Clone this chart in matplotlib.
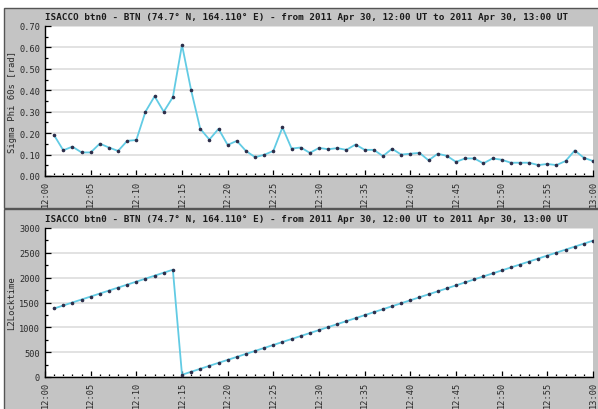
import matplotlib
matplotlib.use("Agg")
import matplotlib.pyplot as plt
import matplotlib.dates as mdates
from matplotlib.patches import Rectangle
import numpy as np
import pandas as pd

# minutes after 12:00 UT, one sample per minute
minutes = list(range(1, 61))

sigma_phi = [
    0.190, 0.120, 0.137, 0.110, 0.110, 0.151, 0.133, 0.117, 0.164, 0.168,
    0.300, 0.372, 0.300, 0.368, 0.612, 0.400, 0.220, 0.170, 0.220, 0.145,
    0.164, 0.117, 0.088, 0.099, 0.117, 0.227, 0.128, 0.133, 0.108, 0.131,
    0.125, 0.130, 0.122, 0.147, 0.122, 0.122, 0.093, 0.127, 0.100, 0.104,
    0.108, 0.073, 0.104, 0.094, 0.066, 0.082, 0.082, 0.059, 0.082, 0.076,
    0.062, 0.062, 0.062, 0.051, 0.056, 0.051, 0.070, 0.119, 0.085, 0.070,
]

l2_locktime = [
    1380, 1440, 1500, 1560, 1620, 1680, 1740, 1800, 1860, 1920,
    1980, 2040, 2100, 2160, 45, 105, 165, 225, 285, 345,
    405, 465, 525, 585, 645, 705, 765, 825, 885, 945,
    1005, 1065, 1125, 1185, 1245, 1305, 1365, 1425, 1485, 1545,
    1605, 1665, 1725, 1785, 1845, 1905, 1965, 2025, 2085, 2145,
    2205, 2265, 2325, 2385, 2445, 2505, 2565, 2625, 2685, 2745,
]

title = ("ISACCO btn0 - BTN (74.7\u00b0 N, 164.110\u00b0 E) - from 2011 Apr 30, "
         "12:00 UT to 2011 Apr 30, 13:00 UT")

t0 = pd.Timestamp("2011-04-30 12:00")
times = [t0 + pd.Timedelta(minutes=m) for m in minutes]

W, H = 598, 410
PANEL = "#c4c4c4"
LINE = "#62cbe4"
DOT = "#2e2e4a"
MONO = "DejaVu Sans Mono"

fig = plt.figure(figsize=(W / 100, H / 100), dpi=100, facecolor="white")


def px_rect(x0, y0, x1, y1):
    """pixel box (top-left origin) -> figure fraction [l, b, w, h]"""
    return [x0 / W, (H - y1) / H, (x1 - x0) / W, (y1 - y0) / H]


# gray panels behind each plot
for (y0, y1) in [(9, 209), (210, 420)]:
    l, b, w, h = px_rect(4, y0, 620, y1)
    fig.patches.append(Rectangle((l, b), w, h, transform=fig.transFigure,
                                 facecolor=PANEL, edgecolor="#555555",
                                 linewidth=1.0, zorder=-5))


def style_axes(ax, ylabel, ylim, ymajor, yminor, yfmt):
    ax.set_facecolor("white")
    for side in ["top", "right"]:
        ax.spines[side].set_visible(False)
    for side in ["left", "bottom"]:
        ax.spines[side].set_color("black")
        ax.spines[side].set_linewidth(1.0)
    ax.set_xlim(t0, t0 + pd.Timedelta(minutes=60))
    ax.set_ylim(*ylim)
    ax.xaxis.set_major_locator(mdates.MinuteLocator(byminute=range(0, 60, 5)))
    ax.xaxis.set_minor_locator(mdates.MinuteLocator())
    ax.xaxis.set_major_formatter(mdates.DateFormatter("%H:%M"))
    ax.set_yticks(ymajor)
    ax.set_yticks(yminor, minor=True)
    ax.yaxis.set_major_formatter(plt.FormatStrFormatter(yfmt))
    ax.grid(axis="y", which="major", color="#e2e2e2", linewidth=1.4, zorder=0)
    ax.tick_params(which="major", direction="in", length=4, width=0.9,
                   color="black", labelsize=6.2, labelcolor="#2a2a2a")
    ax.tick_params(which="minor", direction="in", length=2.2, width=0.9,
                   color="black")
    ax.tick_params(axis="x", which="major", labelrotation=90, pad=3)
    ax.tick_params(axis="y", which="major", pad=3.5)
    for lab in ax.get_xticklabels() + ax.get_yticklabels():
        lab.set_family(MONO)
    ax.set_ylabel(ylabel, fontsize=6.4, family=MONO, color="#2a2a2a")
    ax.yaxis.set_label_coords(-0.052, 0.5)
    ax.set_title(title, loc="left", fontsize=6.65, family=MONO,
                 fontweight="bold", color="#1a1a1a", pad=5)


ax1 = fig.add_axes(px_rect(45, 27, 593, 177))
ax1.plot(times, sigma_phi, color=LINE, linewidth=1.3, zorder=3)
ax1.plot(times, sigma_phi, "o", color=DOT, markersize=1.6, zorder=4)
style_axes(ax1, "Sigma Phi 60s [rad]", (0, 0.70),
           np.arange(0, 0.71, 0.1), np.arange(0.05, 0.7, 0.1), "%.2f")

ax2 = fig.add_axes(px_rect(45, 229, 593, 378))
ax2.plot(times, l2_locktime, color=LINE, linewidth=1.3, zorder=3)
ax2.plot(times, l2_locktime, "o", color=DOT, markersize=1.6, zorder=4)
style_axes(ax2, "L2Locktime", (0, 3000),
           np.arange(0, 3001, 500), np.arange(250, 3000, 500), "%d")

fig.savefig("out.png", dpi=100)
